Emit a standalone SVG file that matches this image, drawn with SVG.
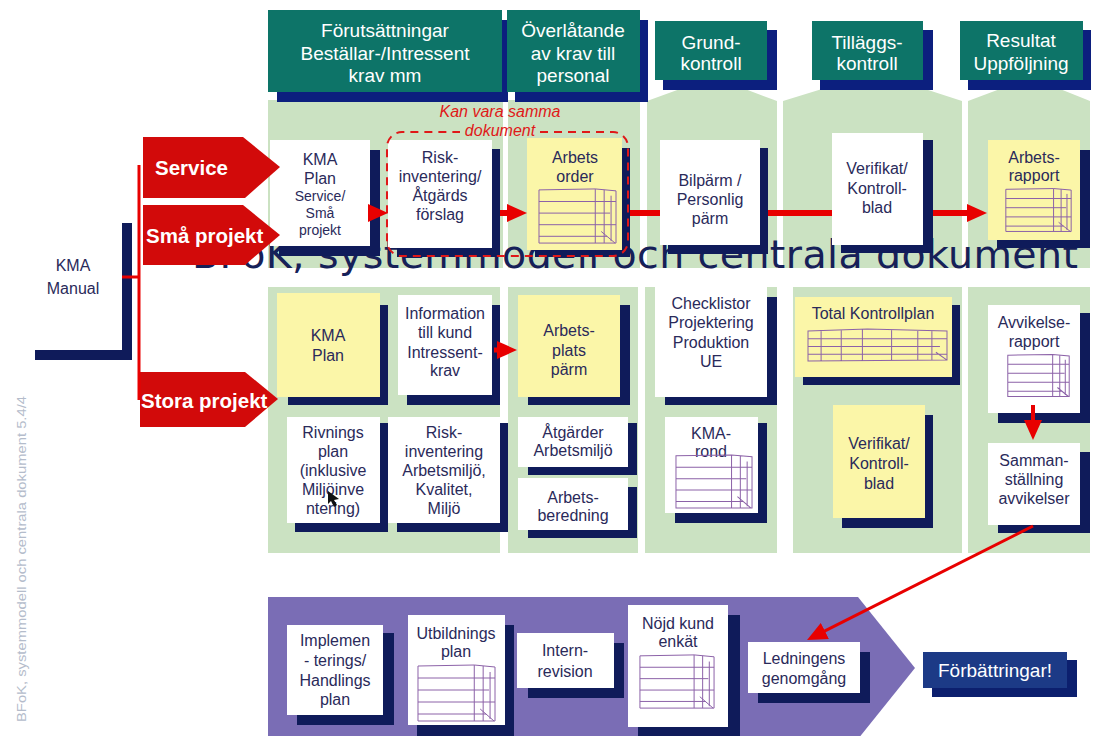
<svg xmlns="http://www.w3.org/2000/svg" xmlns:xlink="http://www.w3.org/1999/xlink" width="1098" height="736" viewBox="0 0 1098 736">
  <style>
    .col{fill:#cbe2c2}
    .hd{fill:#0d7468}
    .hs{fill:#0c1f7e}
    .sh{fill:#0f1b5a}
    .bx{fill:#ffffff}
    .by{fill:#fbf6a8}
    .t{font-family:"Liberation Sans",Arial,sans-serif;font-size:16px;fill:#2a2a5a;text-anchor:middle}
    .ts{font-size:14px}
    .ht{font-family:"Liberation Sans",Arial,sans-serif;font-size:19px;fill:#ffffff;text-anchor:middle}
    .at{font-family:"Liberation Sans",Arial,sans-serif;font-size:20.5px;font-weight:bold;fill:#ffffff}
    .arr{fill:#d20a0a}
    .ln{stroke:#e80000;fill:none}
    .tl{fill:none;stroke:#8c62a8;stroke-width:1}
  </style>
  <defs>
    <marker id="ah" markerUnits="userSpaceOnUse" markerWidth="20" markerHeight="18" refX="6" refY="9" orient="auto">
      <path d="M0,0 L20,9 L0,18 Z" fill="#e80000"/>
    </marker>
    <!-- hand-drawn looking form/table sketch -->
    <symbol id="tbl" viewBox="0 0 80 60" preserveAspectRatio="none">
      <path class="tl" vector-effect="non-scaling-stroke" d="M1,3 L58,2 L79,4 L79,58 L1,58 Z M1,15 H79 M1,27 H73 M1,39 H79 M1,51 H70 M58,2 V58 M67,3 V58 M74,9 V56 M64,46 L78,58"/>
    </symbol>
    <symbol id="tblw" viewBox="0 0 140 36" preserveAspectRatio="none">
      <path class="tl" vector-effect="non-scaling-stroke" d="M1,4 L60,2 L139,4 L139,34 L1,35 Z M1,12 H139 M1,20 H132 M1,28 H139 M14,3 V35 M34,3 V35 M55,2 V35 M84,3 V34 M110,3 V34 M124,4 V34 M128,26 L139,34"/>
    </symbol>
  </defs>

  <rect width="1098" height="736" fill="#ffffff"/>

  <!-- phase columns -->
  <g id="columns">
    <rect class="col" x="268" y="100" width="235" height="168"/>
    <rect class="col" x="508" y="100" width="132" height="168"/>
    <polygon class="col" points="647,268 647,101 680,89 745,89 777,101 777,268"/>
    <polygon class="col" points="783,268 783,101 822,89 925,89 962,101 962,268"/>
    <polygon class="col" points="968,268 968,101 1000,89 1060,89 1090,101 1090,268"/>
    <rect class="col" x="268" y="287" width="232" height="266"/>
    <rect class="col" x="508" y="287" width="130" height="266"/>
    <rect class="col" x="645" y="287" width="132" height="266"/>
    <rect class="col" x="793" y="287" width="169" height="266"/>
    <rect class="col" x="968" y="287" width="122" height="266"/>
  </g>

  <!-- large title behind the document row -->
  <text id="title" x="192" y="268" font-family="'DejaVu Sans',Verdana,sans-serif" font-size="39.5" fill="#162058" textLength="886" lengthAdjust="spacing">BFoK, systemmodell och centrala dokument</text>

  <!-- phase headers -->
  <g id="h-forutsattningar">
    <rect class="hs" x="277" y="20" width="231" height="82"/>
    <rect class="hd" x="268" y="10" width="234" height="82"/>
    <text class="ht" x="385" y="37">Förutsättningar</text>
    <text class="ht" x="385" y="60">Beställar-/Intressent</text>
    <text class="ht" x="385" y="82">krav mm</text>
  </g>
  <g id="h-overlatande">
    <rect class="hs" x="515" y="20" width="133" height="82"/>
    <rect class="hd" x="507" y="10" width="133" height="82"/>
    <text class="ht" x="573" y="37">Överlåtande</text>
    <text class="ht" x="573" y="60">av krav till</text>
    <text class="ht" x="573" y="82">personal</text>
  </g>
  <g id="h-grundkontroll">
    <rect class="hs" x="663" y="30" width="114" height="60"/>
    <rect class="hd" x="655" y="21" width="112" height="59"/>
    <text class="ht" x="711" y="49">Grund-</text>
    <text class="ht" x="711" y="70">kontroll</text>
  </g>
  <g id="h-tillaggskontroll">
    <rect class="hs" x="820" y="30" width="113" height="60"/>
    <rect class="hd" x="812" y="21" width="111" height="59"/>
    <text class="ht" x="867" y="49">Tilläggs-</text>
    <text class="ht" x="867" y="70">kontroll</text>
  </g>
  <g id="h-resultat">
    <rect class="hs" x="968" y="30" width="123" height="60"/>
    <rect class="hd" x="960" y="21" width="123" height="59"/>
    <text class="ht" x="1021" y="47">Resultat</text>
    <text class="ht" x="1021" y="70">Uppföljning</text>
  </g>

  <!-- upper document row -->
  <g id="n-kmaplan-service">
    <rect class="sh" x="279" y="150" width="101" height="106"/>
    <rect class="bx" x="270" y="140" width="100" height="106"/>
    <text class="t" x="320" y="165">KMA</text>
    <text class="t" x="320" y="184">Plan</text>
    <text class="t ts" x="320" y="201">Service/</text>
    <text class="t ts" x="320" y="218">Små</text>
    <text class="t ts" x="320" y="235">projekt</text>
  </g>
  <g id="n-riskinventering">
    <rect class="sh" x="397" y="149" width="103" height="108"/>
    <rect class="bx" x="388" y="140" width="104" height="108"/>
    <text class="t" x="440" y="163">Risk-</text>
    <text class="t" x="440" y="182">inventering/</text>
    <text class="t" x="440" y="201">Åtgärds</text>
    <text class="t" x="440" y="220">förslag</text>
  </g>
  <g id="n-arbetsorder">
    <rect class="sh" x="535" y="148" width="95" height="109"/>
    <rect class="by" x="527" y="138" width="95" height="112"/>
    <text class="t" x="575" y="163">Arbets</text>
    <text class="t" x="575" y="182">order</text>
    <use xlink:href="#tbl" x="538" y="187" width="79" height="58"/>
  </g>
  <g id="n-bilparm">
    <rect class="sh" x="668" y="148" width="100" height="106"/>
    <rect class="bx" x="660" y="140" width="100" height="105"/>
    <text class="t" x="710" y="186">Bilpärm /</text>
    <text class="t" x="710" y="205">Personlig</text>
    <text class="t" x="710" y="224">pärm</text>
  </g>
  <g id="n-verifikat-1">
    <rect class="sh" x="841" y="140" width="92" height="113"/>
    <rect class="bx" x="832" y="133" width="91" height="112"/>
    <text class="t" x="877" y="174">Verifikat/</text>
    <text class="t" x="877" y="194">Kontroll-</text>
    <text class="t" x="877" y="213">blad</text>
  </g>
  <g id="n-arbetsrapport">
    <rect class="sh" x="997" y="150" width="93" height="98"/>
    <rect class="by" x="988" y="140" width="92" height="100"/>
    <text class="t" x="1034" y="163">Arbets-</text>
    <text class="t" x="1034" y="181">rapport</text>
    <use xlink:href="#tbl" x="1005" y="187" width="67" height="46"/>
  </g>

  <!-- note grouping the two documents -->
  <g id="n-samma-dokument">
    <path d="M540,132 H613 A15,15 0 0 1 628,147 V241 A15,15 0 0 1 613,256 H402 A15,15 0 0 1 387,241 V147 A15,15 0 0 1 402,132 H460" fill="none" stroke="#e01818" stroke-width="2" stroke-dasharray="8,6"/>
    <text x="500" y="117" font-family="'Liberation Sans',Arial,sans-serif" font-size="16" font-style="italic" fill="#e01818" text-anchor="middle">Kan vara samma</text>
    <text x="500" y="136" font-family="'Liberation Sans',Arial,sans-serif" font-size="16" font-style="italic" fill="#e01818" text-anchor="middle">dokument</text>
  </g>

  <!-- lower document area -->
  <g id="n-kmaplan">
    <rect class="sh" x="288" y="305" width="100" height="100"/>
    <rect class="by" x="277" y="293" width="103" height="104"/>
    <text class="t" x="328" y="341">KMA</text>
    <text class="t" x="328" y="361">Plan</text>
  </g>
  <g id="n-information">
    <rect class="sh" x="407" y="305" width="93" height="100"/>
    <rect class="bx" x="398" y="295" width="94" height="100"/>
    <text class="t" x="445" y="319">Information</text>
    <text class="t" x="445" y="338">till kund</text>
    <text class="t" x="445" y="358">Intressent-</text>
    <text class="t" x="445" y="376">krav</text>
  </g>
  <g id="n-rivningsplan">
    <rect class="sh" x="295" y="423" width="93" height="109"/>
    <rect class="bx" x="287" y="417" width="93" height="106"/>
    <text class="t" x="333" y="438">Rivnings</text>
    <text class="t" x="333" y="457">plan</text>
    <text class="t" x="333" y="476">(inklusive</text>
    <text class="t" x="333" y="495">Miljöinve</text>
    <text class="t" x="333" y="514">ntering)</text>
    <polygon points="328,491 328,504 331,501 334,507 337,505 334,500 339,499" fill="#111111"/>
  </g>
  <g id="n-riskinventering-2">
    <rect class="sh" x="397" y="423" width="111" height="109"/>
    <rect class="bx" x="388" y="417" width="112" height="106"/>
    <text class="t" x="444" y="438">Risk-</text>
    <text class="t" x="444" y="457">inventering</text>
    <text class="t" x="444" y="476">Arbetsmiljö,</text>
    <text class="t" x="444" y="495">Kvalitet,</text>
    <text class="t" x="444" y="514">Miljö</text>
  </g>
  <g id="n-arbetsplatsparm">
    <rect class="sh" x="528" y="305" width="102" height="100"/>
    <rect class="by" x="518" y="295" width="102" height="102"/>
    <text class="t" x="569" y="336">Arbets-</text>
    <text class="t" x="569" y="356">plats</text>
    <text class="t" x="569" y="375">pärm</text>
  </g>
  <g id="n-atgarder">
    <rect class="sh" x="528" y="423" width="109" height="52"/>
    <rect class="bx" x="518" y="417" width="110" height="50"/>
    <text class="t" x="573" y="438">Åtgärder</text>
    <text class="t" x="573" y="456">Arbetsmiljö</text>
  </g>
  <g id="n-arbetsberedning">
    <rect class="sh" x="528" y="487" width="109" height="51"/>
    <rect class="bx" x="518" y="478" width="110" height="52"/>
    <text class="t" x="573" y="503">Arbets-</text>
    <text class="t" x="573" y="521">beredning</text>
  </g>
  <g id="n-checklistor">
    <rect class="sh" x="665" y="297" width="112" height="108"/>
    <rect class="bx" x="655" y="287" width="112" height="110"/>
    <text class="t" x="711" y="309">Checklistor</text>
    <text class="t" x="711" y="328">Projektering</text>
    <text class="t" x="711" y="348">Produktion</text>
    <text class="t" x="711" y="367">UE</text>
  </g>
  <g id="n-kmarond">
    <rect class="sh" x="675" y="423" width="92" height="100"/>
    <rect class="bx" x="665" y="417" width="93" height="96"/>
    <text class="t" x="711" y="439">KMA-</text>
    <text class="t" x="711" y="457">rond</text>
    <use xlink:href="#tbl" x="675" y="453" width="78" height="57"/>
  </g>
  <g id="n-totalkontrollplan">
    <rect class="sh" x="803" y="305" width="157" height="80"/>
    <rect class="by" x="795" y="297" width="157" height="80"/>
    <text class="t" x="873" y="319">Total Kontrollplan</text>
    <use xlink:href="#tblw" x="807" y="327" width="141" height="35"/>
  </g>
  <g id="n-verifikat-2">
    <rect class="sh" x="842" y="415" width="91" height="113"/>
    <rect class="by" x="833" y="405" width="92" height="113"/>
    <text class="t" x="879" y="449">Verifikat/</text>
    <text class="t" x="879" y="469">Kontroll-</text>
    <text class="t" x="879" y="489">blad</text>
  </g>
  <g id="n-avvikelserapport">
    <rect class="sh" x="998" y="313" width="92" height="110"/>
    <rect class="bx" x="988" y="305" width="92" height="108"/>
    <text class="t" x="1034" y="328">Avvikelse-</text>
    <text class="t" x="1034" y="347">rapport</text>
    <use xlink:href="#tbl" x="1007" y="353" width="63" height="45"/>
  </g>
  <g id="n-sammanstallning">
    <rect class="sh" x="998" y="452" width="92" height="81"/>
    <rect class="bx" x="988" y="443" width="92" height="82"/>
    <text class="t" x="1034" y="466">Samman-</text>
    <text class="t" x="1034" y="485">ställning</text>
    <text class="t" x="1034" y="504">avvikelser</text>
  </g>

  <!-- entry side -->
  <g id="n-kmamanual">
    <rect class="sh" x="35" y="223" width="97" height="137"/>
    <rect class="bx" x="25" y="215" width="97" height="135"/>
    <text class="t" x="73" y="271">KMA</text>
    <text class="t" x="73" y="294">Manual</text>
  </g>
  <g id="n-service">
    <polygon class="arr" points="143,137 243,137 280,167 245,198 143,198"/>
    <text class="at" x="155" y="175">Service</text>
  </g>
  <g id="n-smaprojekt">
    <polygon class="arr" points="143,205 243,205 280,235 245,265 143,265"/>
    <text class="at" x="146" y="243">Små projekt</text>
  </g>
  <g id="n-storaprojekt">
    <polygon class="arr" points="140,372 245,372 278,399 245,427 140,427"/>
    <text class="at" x="141" y="408">Stora projekt</text>
  </g>

  <!-- improvement band -->
  <g id="band">
    <polygon points="268,597 858,597 915,668 858,739 268,739" fill="#7a6db5"/>
  </g>
  <g id="n-implementeringsplan">
    <rect class="sh" x="297" y="633" width="97" height="92"/>
    <rect class="bx" x="287" y="625" width="96" height="90"/>
    <text class="t" x="335" y="646">Implemen</text>
    <text class="t" x="335" y="666">- terings/</text>
    <text class="t" x="335" y="686">Handlings</text>
    <text class="t" x="335" y="705">plan</text>
  </g>
  <g id="n-utbildningsplan">
    <rect class="sh" x="417" y="625" width="97" height="111"/>
    <rect class="bx" x="408" y="615" width="97" height="110"/>
    <text class="t" x="456" y="639">Utbildnings</text>
    <text class="t" x="456" y="657">plan</text>
    <use xlink:href="#tbl" x="417" y="663" width="79" height="60"/>
  </g>
  <g id="n-internrevision">
    <rect class="sh" x="528" y="643" width="96" height="55"/>
    <rect class="bx" x="517" y="633" width="97" height="55"/>
    <text class="t" x="565" y="656">Intern-</text>
    <text class="t" x="565" y="677">revision</text>
  </g>
  <g id="n-nojdkund">
    <rect class="sh" x="638" y="615" width="102" height="122"/>
    <rect class="bx" x="628" y="605" width="100" height="122"/>
    <text class="t" x="678" y="629">Nöjd kund</text>
    <text class="t" x="678" y="647">enkät</text>
    <use xlink:href="#tbl" x="639" y="653" width="76" height="57"/>
  </g>
  <g id="n-ledningensgenomgang">
    <rect class="sh" x="758" y="652" width="112" height="51"/>
    <rect class="bx" x="748" y="642" width="112" height="51"/>
    <text class="t" x="804" y="664">Ledningens</text>
    <text class="t" x="804" y="684">genomgång</text>
  </g>
  <g id="n-forbattringar">
    <rect x="932" y="660" width="145" height="37" fill="#0c1f6e"/>
    <rect x="923" y="652" width="144" height="36" fill="#1c3a86"/>
    <text class="ht" x="995" y="677">Förbättringar!</text>
  </g>

  <!-- connectors -->
  <g id="connectors">
    <path class="ln" stroke-width="3" d="M122,277 H139"/>
    <path class="ln" stroke-width="3" d="M139,165 V400"/>
    <path class="ln" stroke-width="6" d="M370,213 H374" marker-end="url(#ah)"/>
    <path class="ln" stroke-width="6" d="M500,213 H513" marker-end="url(#ah)"/>
    <path class="ln" stroke-width="6" d="M630,213 H660"/>
    <path class="ln" stroke-width="6" d="M768,213 H832"/>
    <path class="ln" stroke-width="6" d="M933,213 H973" marker-end="url(#ah)"/>
    <path class="ln" stroke-width="5" d="M494,350 H503" marker-end="url(#ah)"/>
    <path class="ln" stroke-width="4" d="M1033,405 V426" marker-end="url(#ah)"/>
    <path class="ln" stroke-width="3" d="M1033,526 L819.5,633.7" marker-end="url(#ah)"/>
  </g>

  <!-- footer reference along the left edge -->
  <text x="26" y="722" transform="rotate(-90 26 722)" font-family="'Liberation Sans',Arial,sans-serif" font-size="13" fill="#b4bccb" textLength="326" lengthAdjust="spacingAndGlyphs">BFoK, systemmodell och centrala dokument 5.4/4</text>
</svg>
